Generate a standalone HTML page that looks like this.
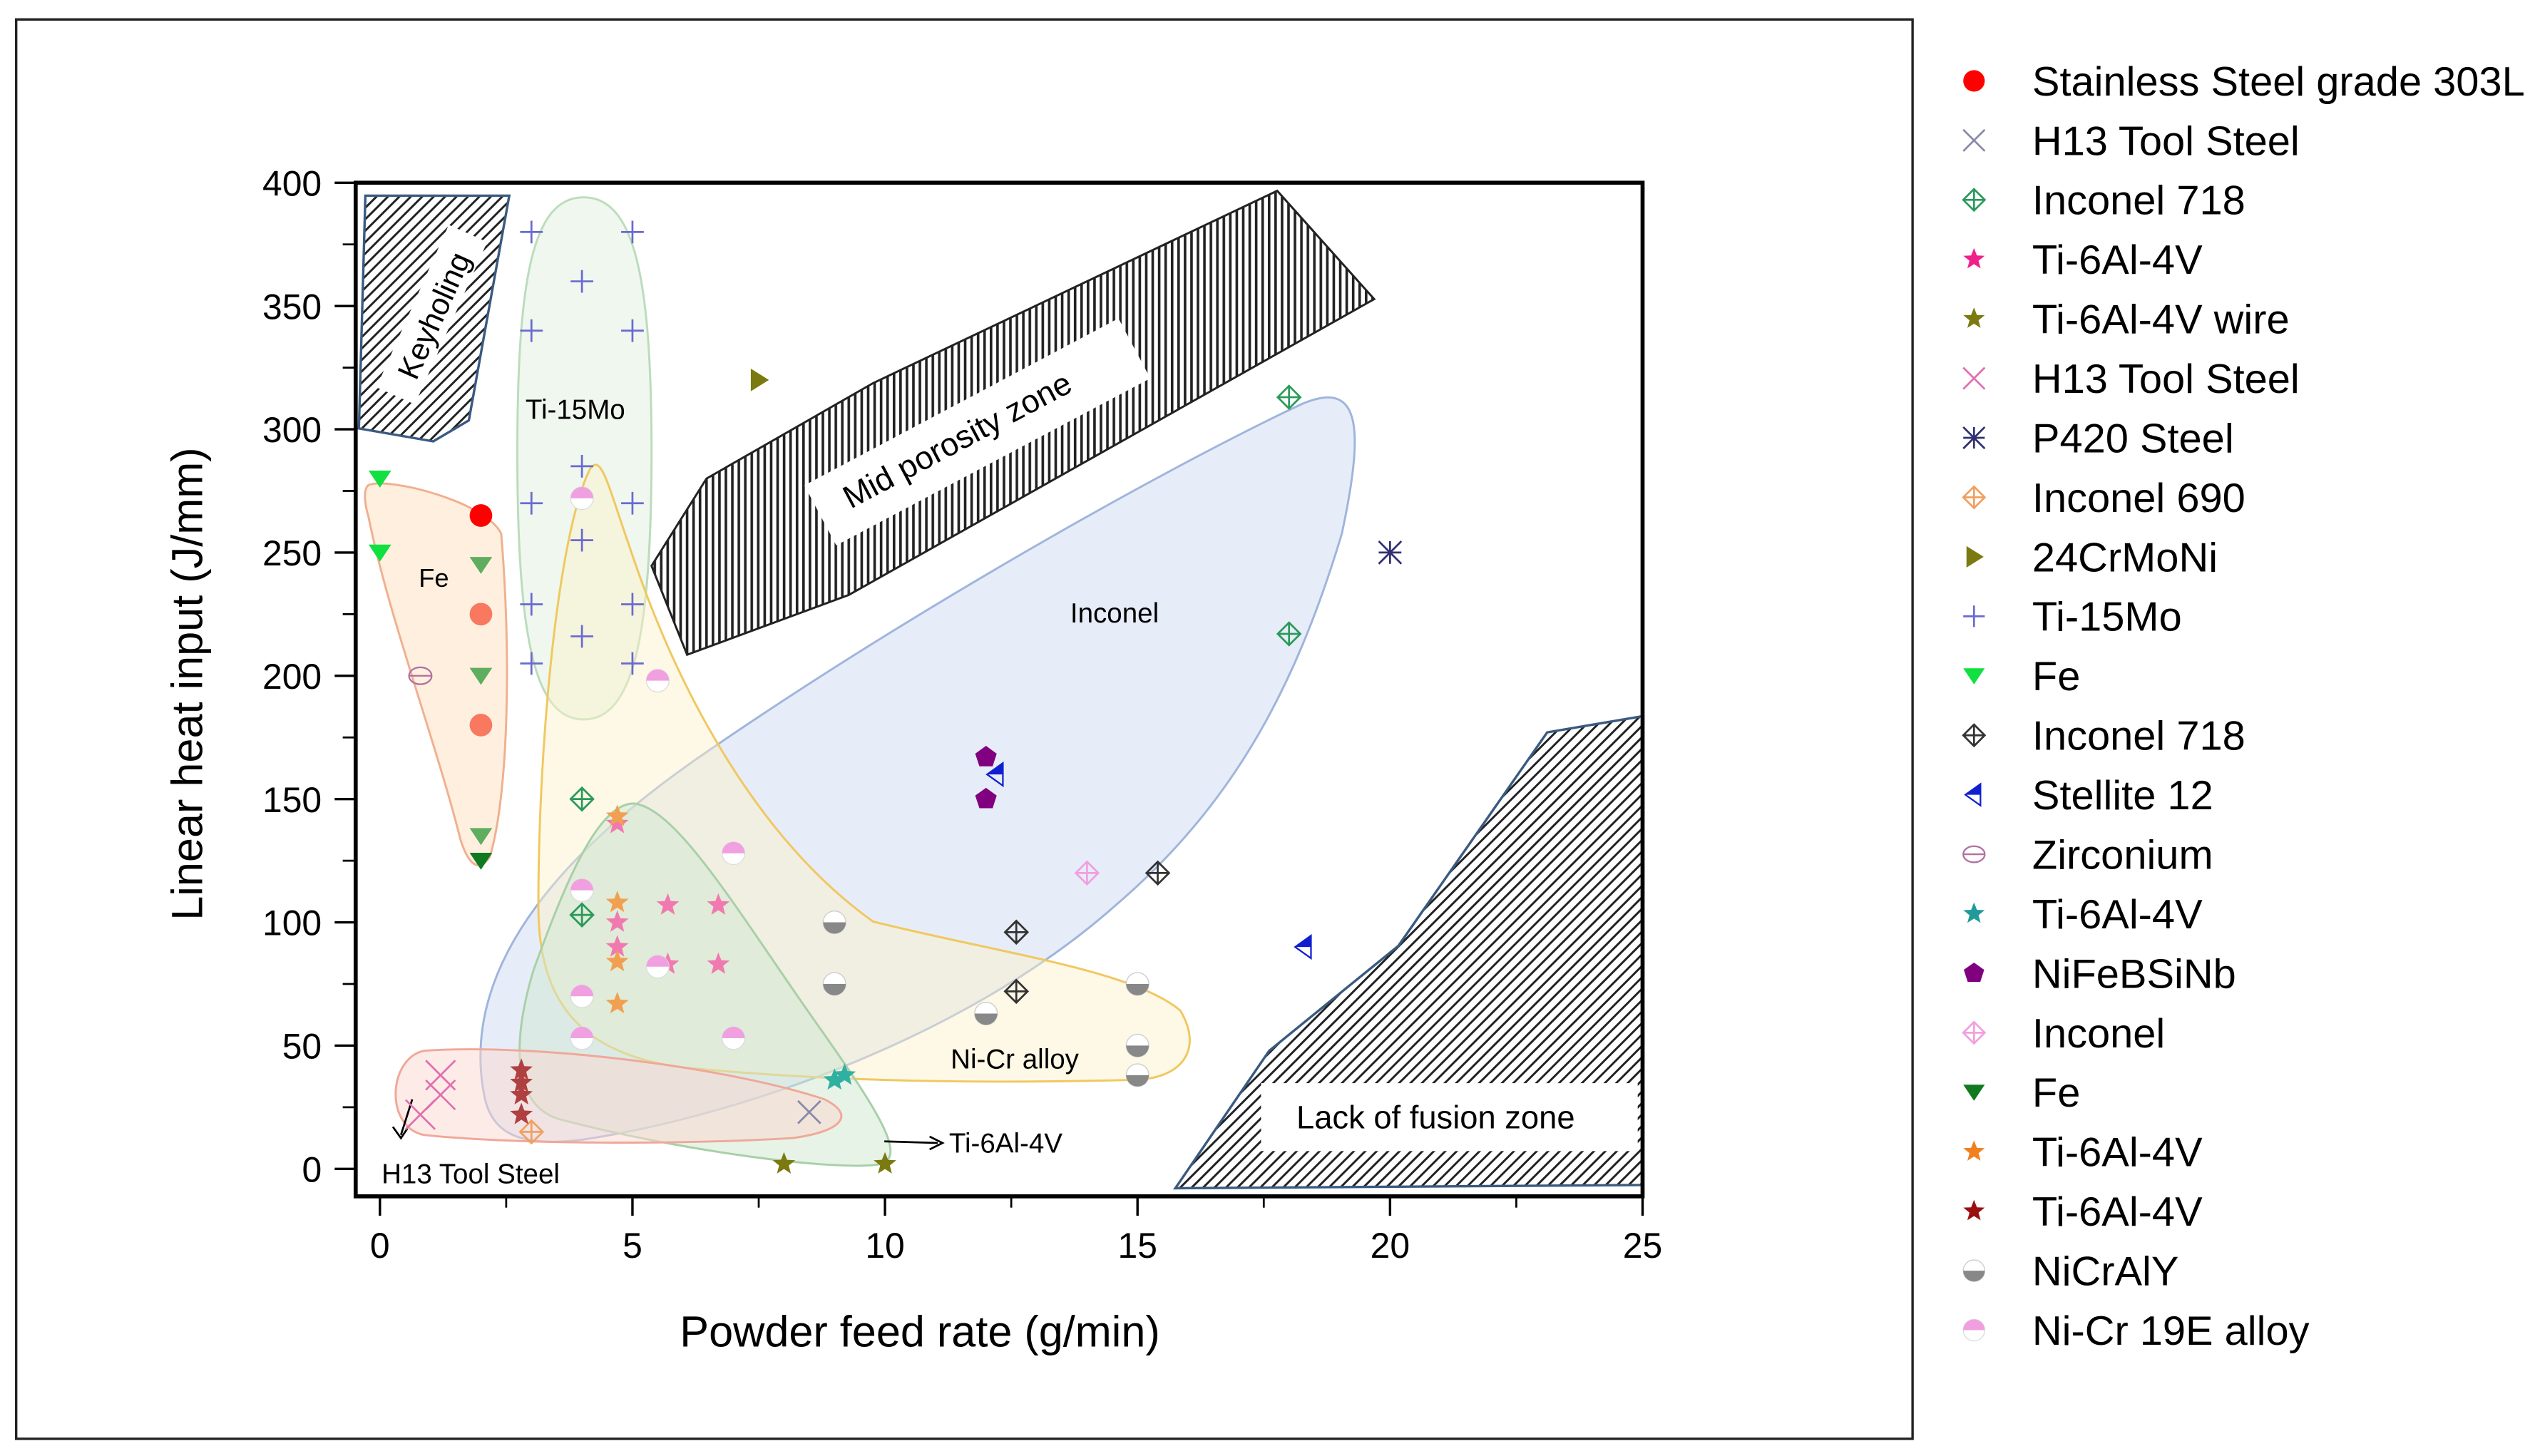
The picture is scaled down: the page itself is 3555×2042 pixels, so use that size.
<!DOCTYPE html>
<html><head><meta charset="utf-8"><style>
html,body{margin:0;padding:0;background:#fff;}
svg{display:block;}
text{font-family:"Liberation Sans",sans-serif;}
</style></head><body>
<svg id="chart" width="3555" height="2042" viewBox="0 0 1568 900.6" xmlns="http://www.w3.org/2000/svg">
<defs>
<pattern id="hatchD" patternUnits="userSpaceOnUse" width="5" height="5" patternTransform="rotate(45)">
<rect width="5" height="5" fill="#fff"/><line x1="0" y1="0" x2="0" y2="5" stroke="#222" stroke-width="2.6"/></pattern>
<pattern id="hatchV" patternUnits="userSpaceOnUse" width="4" height="4">
<rect width="4" height="4" fill="#fff"/><line x1="1" y1="0" x2="1" y2="4" stroke="#222" stroke-width="1.6"/></pattern>
</defs>
<rect x="10" y="12" width="1173" height="878" fill="none" stroke="#222" stroke-width="1.5"/>
<g id="regions"></g>
<g id="axes"></g>
<g id="marks"></g>
<g id="legend"></g>
</svg>
<script>
// Data arrays
const xTicks=[0,5,10,15,20,25];
const yTicks=[0,50,100,150,200,250,300,350,400];
const ss303L=[[2,265]];
const ss303Lb=[[2,225],[2,180]];
const h13Grey=[[8.5,23]];
const inc718Green=[[18,313],[18,217],[4,150],[4,103]];
const tiPink=[[4.7,140],[4.7,100],[4.7,90],[5.7,107],[6.7,107],[5.7,83],[6.7,83]];
const tiWire=[[8,2],[10,2]];
const h13Pink=[[1.2,38],[1.2,30],[0.8,22]];
const p420=[[20,250]];
const inc690=[[3,15]];
const crmoni=[[7.5,320]];
const ti15mo=[[3,380],[5,380],[4,360],[3,340],[5,340],[4,285],[3,270],[5,270],[4,255],[3,229],[5,229],[4,216],[3,205],[5,205]];
const feBright=[[0,280],[0,250]];
const inc718Black=[[15.4,120],[12.6,96],[12.6,72]];
const stellite=[[12.2,160],[18.3,90]];
const zirconium=[[0.8,200]];
const tiTeal=[[9,36],[9.2,38]];
const nifeb=[[12,167],[12,150]];
const inconelPink=[[14,120]];
const feDark=[[2,125]];
const feMuted=[[2,245],[2,200],[2,135]];
const tiOrange=[[4.7,143],[4.7,108],[4.7,84],[4.7,67]];
const tiDarkRed=[[2.8,22],[2.8,30],[2.8,35],[2.8,40]];
const nicraly=[[9,100],[9,75],[12,63],[15,75],[15,50],[15,38]];
const nicr19e=[[4,272],[5.5,198],[7,128],[4,113],[4,70],[4,53],[7,53],[5.5,82]];
const legendLabels=["Stainless Steel grade 303L","H13 Tool Steel","Inconel 718","Ti-6Al-4V","Ti-6Al-4V wire","H13 Tool Steel","P420 Steel","Inconel 690","24CrMoNi","Ti-15Mo","Fe","Inconel 718","Stellite 12","Zirconium","Ti-6Al-4V","NiFeBSiNb","Inconel","Fe","Ti-6Al-4V","Ti-6Al-4V","NiCrAlY","Ni-Cr 19E alloy"];

const NS="http://www.w3.org/2000/svg";
const X0=235,X1=1016,Y0=723,Y1=113;
function sx(v){return X0+(X1-X0)*v/25;}
function sy(v){return Y0-(Y0-Y1)*v/400;}
function mk(tag,attrs,parent){const e=document.createElementNS(NS,tag);for(const k in attrs)e.setAttribute(k,attrs[k]);parent.appendChild(e);return e;}
const R=document.getElementById('regions'),A=document.getElementById('axes'),M=document.getElementById('marks'),L=document.getElementById('legend');

function region(d,fill,stroke,name,op){const p=mk('path',{d:d,fill:fill,stroke:stroke,'stroke-width':1.3,'fill-opacity':op},R);

return p;}
region("M300,680 C285,610 330,540 430,470 C560,380 720,290 805,250 C840,235 845,260 830,330 C800,430 760,500 690,560 C600,640 460,690 360,705 C320,710 305,700 300,680Z","#c9d8f0","#9fb5dc","inconel-region",0.45);
region("M228,300 C240,295 300,310 310,330 C316,400 315,490 303,530 C296,540 290,535 285,520 C270,460 240,380 228,320 C225,310 225,302 228,300Z","#fde0c0","#f0b090","fe-region",0.5);
region("M361,122 C392,122 403,170 403,280 C403,400 390,445 361,445 C332,445 320,400 320,280 C320,170 330,122 361,122Z","#dff0df","#bcdcbc","ti15mo-region",0.5);
region("M365,290 C372,280 376,300 390,340 C420,430 470,520 540,570 C620,590 700,600 730,625 C745,650 730,668 700,668 C620,670 520,670 420,660 C350,650 333,610 333,560 C333,460 345,330 365,290Z","#fdf0c8","#f0c860","nicr-region",0.45);
region("M392,497 C420,500 460,570 510,640 C545,690 560,715 545,720 C520,725 420,712 345,692 C315,682 318,640 330,600 C350,545 370,497 392,497Z","#cfe8cf","#a8d0a8","ti6al4v-region",0.5);
region("M262,650 C330,645 450,660 510,680 C530,690 520,700 490,704 C420,708 320,708 262,702 C238,697 240,655 262,650Z","#fbd8d0","#f0a898","h13-region",0.5);
const kz=mk('path',{d:"M226,121 L315,121 L290,260 L268,273 L222,265Z",fill:"url(#hatchD)",stroke:"#3a5a80","stroke-width":1.5},R);


const kb=mk('rect',{x:-55,y:-14,width:110,height:26,fill:"#fff",transform:"translate(268,195) rotate(-66)"},R);


const kt=mk('text',{x:0,y:7,'font-size':19,'text-anchor':'middle',transform:"translate(268,195) rotate(-66)"},R);


kt.textContent="Keyholing";
const mz=mk('path',{d:"M403,350 L437,296 L540,237 L790,118 L850,185 L525,368 L425,405Z",fill:"url(#hatchV)",stroke:"#222","stroke-width":1.3},R);


const mb=mk('rect',{x:-110,y:-22,width:220,height:42,fill:"#fff",transform:"translate(605,268) rotate(-28)"},R);


const mt=mk('text',{x:0,y:7,'font-size':20,'text-anchor':'middle',transform:"translate(592,272) rotate(-28)"},R);


mt.textContent="Mid porosity zone";
const lz=mk('path',{d:"M727,735 L785,650 L865,585 L957,453 L1016,443 L1016,733Z",fill:"url(#hatchD)",stroke:"#3a5a80","stroke-width":1.5},R);


const lb=mk('rect',{x:780,y:670,width:233,height:42,fill:"#fff"},R);


const lt=mk('text',{x:888,y:698,'font-size':20,'text-anchor':'middle'},R);


lt.textContent="Lack of fusion zone";
function lbl(x,y,s,t,name){const e=mk('text',{x:x,y:y,'font-size':s},R);e.textContent=t;

}
lbl(325,259,17,"Ti-15Mo","ti15mo-label");
lbl(259,363,16,"Fe","fe-label");
lbl(662,385,17,"Inconel","inconel-label");
lbl(588,661,17,"Ni-Cr alloy","nicr-label");
lbl(236,732,17,"H13 Tool Steel","h13-label");
lbl(587,713,17,"Ti-6Al-4V","ti6al4v-label");
mk('path',{d:"M255,680 L248,702 M243,697 L248,704 L252,698",stroke:"#000",fill:"none","stroke-width":1.2},R);
mk('path',{d:"M547,706 L580,707 M575,703 L583,707 L575,711",stroke:"#000",fill:"none","stroke-width":1.2},R);

const fr=mk('rect',{x:220,y:113,width:796,height:627,fill:"none",stroke:"#000","stroke-width":2.5},A);


xTicks.forEach(v=>{const x=sx(v);
 mk('line',{x1:x,y1:740,x2:x,y2:752,stroke:"#000","stroke-width":1.5},A);
 const t=mk('text',{x:x,y:778,'font-size':22,'text-anchor':'middle'},A);t.textContent=v;
 
 });
for(let i=0;i<xTicks.length-1;i++){const x=sx((xTicks[i]+xTicks[i+1])/2);mk('line',{x1:x,y1:740,x2:x,y2:747,stroke:"#000","stroke-width":1.2},A);}
yTicks.forEach(v=>{const y=sy(v);
 mk('line',{x1:207,y1:y,x2:220,y2:y,stroke:"#000","stroke-width":1.5},A);
 const t=mk('text',{x:199,y:y+8,'font-size':22,'text-anchor':'end'},A);t.textContent=v;
 
 });
for(let i=0;i<yTicks.length-1;i++){const y=sy((yTicks[i]+yTicks[i+1])/2);mk('line',{x1:212,y1:y,x2:220,y2:y,stroke:"#000","stroke-width":1.2},A);}
const xt=mk('text',{x:569,y:833,'font-size':27,'text-anchor':'middle'},A);xt.textContent="Powder feed rate (g/min)";


const yt=mk('text',{x:0,y:0,'font-size':27,'text-anchor':'middle',transform:"translate(125,423) rotate(-90)"},A);yt.textContent="Linear heat input (J/mm)";



function shape(type,cx,cy,col,par,s){s=s||1;const g=mk('g',{},par);
 const r=7*s;
 if(type==='circle')mk('circle',{cx:cx,cy:cy,r:r,fill:col},g);
 else if(type==='x'){mk('path',{d:`M${cx-r},${cy-r}L${cx+r},${cy+r}M${cx-r},${cy+r}L${cx+r},${cy-r}`,stroke:col,'stroke-width':1.2,fill:'none'},g);}
 else if(type==='plus'){mk('path',{d:`M${cx-r},${cy}L${cx+r},${cy}M${cx},${cy-r}L${cx},${cy+r}`,stroke:col,'stroke-width':1.2},g);}
 else if(type==='diamond'){mk('path',{d:`M${cx},${cy-r}L${cx+r},${cy}L${cx},${cy+r}L${cx-r},${cy}ZM${cx-r},${cy}L${cx+r},${cy}M${cx},${cy-r}L${cx},${cy+r}`,stroke:col,'stroke-width':1.2,fill:'none'},g);}
 else if(type==='star'){let d='';for(let i=0;i<10;i++){const a=-Math.PI/2+i*Math.PI/5,rr=i%2?r*0.45:r*1.05;d+=(i?'L':'M')+(cx+rr*Math.cos(a)).toFixed(1)+','+(cy+rr*Math.sin(a)).toFixed(1);}mk('path',{d:d+'Z',fill:col},g);}
 else if(type==='down')mk('path',{d:`M${cx-r},${cy-r*0.7}L${cx+r},${cy-r*0.7}L${cx},${cy+r*0.8}Z`,fill:col},g);
 else if(type==='right')mk('path',{d:`M${cx-r*0.7},${cy-r}L${cx+r*0.9},${cy}L${cx-r*0.7},${cy+r}Z`,fill:col},g);
 else if(type==='left'){mk('path',{d:`M${cx+r*0.6},${cy-r}L${cx-r*0.8},${cy}L${cx+r*0.6},${cy}Z`,fill:col},g);mk('path',{d:`M${cx+r*0.6},${cy-r}L${cx-r*0.8},${cy}L${cx+r*0.6},${cy+r}Z`,fill:'none',stroke:col,'stroke-width':1},g);}
 else if(type==='pent'){let d='';for(let i=0;i<5;i++){const a=-Math.PI/2+i*2*Math.PI/5;d+=(i?'L':'M')+(cx+r*Math.cos(a)).toFixed(1)+','+(cy+r*Math.sin(a)).toFixed(1);}mk('path',{d:d+'Z',fill:col},g);}
 else if(type==='hex'){mk('ellipse',{cx:cx,cy:cy,rx:r,ry:r*0.75,fill:'none',stroke:col,'stroke-width':1},g);mk('line',{x1:cx-r,y1:cy,x2:cx+r,y2:cy,stroke:col,'stroke-width':1},g);}
 else if(type==='half'){mk('circle',{cx:cx,cy:cy,r:r,fill:'#fff',stroke:'#ccc','stroke-width':0.6},g);mk('path',{d:`M${cx-r},${cy}A${r},${r} 0 0 0 ${cx+r},${cy}Z`,fill:col},g);}
 else if(type==='halfTop'){mk('circle',{cx:cx,cy:cy,r:r,fill:'#fff',stroke:'#ddd','stroke-width':0.6},g);mk('path',{d:`M${cx-r},${cy}A${r},${r} 0 0 1 ${cx+r},${cy}Z`,fill:col},g);}
 else if(type==='asterisk'){mk('path',{d:`M${cx-r},${cy-r}L${cx+r},${cy+r}M${cx-r},${cy+r}L${cx+r},${cy-r}M${cx-r},${cy}L${cx+r},${cy}M${cx},${cy-r}L${cx},${cy+r}`,stroke:col,'stroke-width':1.2},g);}
 return g;}
function series(arr,type,col,name,s){arr.forEach(p=>{const g=shape(type,sx(p[0]),sy(p[1]),col,M,s);
 
 });}
series(ss303Lb,'circle','#f87860','ss303l-point');
series(feMuted,'down','#5fae5f','fe-dark-point');
series(ss303L,'circle','#f00','ss303l-point');
series(h13Grey,'x','#8888aa','h13-grey-point');
series(inc718Green,'diamond','#2a9a5a','inconel718-green-point');
series(tiPink,'star','#f07ab0','ti6al4v-pink-point');
series(tiWire,'star','#7a7a10','ti6al4v-wire-point');
series(h13Pink,'x','#e070b0','h13-pink-point',1.3);
series(p420,'asterisk','#303070','p420-point');
series(inc690,'diamond','#f0a060','inconel690-point');
series(crmoni,'right','#7a7a10','24crmoni-point');
series(ti15mo,'plus','#6a6ad0','ti15mo-point');
series(feBright,'down','#10e040','fe-bright-point');
series(inc718Black,'diamond','#333','inconel718-black-point');
series(stellite,'left','#1020d0','stellite12-point');
series(zirconium,'hex','#b070a0','zirconium-point');
series(tiTeal,'star','#30b0a0','ti6al4v-teal-point');
series(nifeb,'pent','#800080','nifebsinb-point');
series(inconelPink,'diamond','#f0a0e0','inconel-pink-point');
series(feDark,'down','#107a20','fe-dark-point');
series(tiOrange,'star','#f0a050','ti6al4v-orange-point');
series(tiDarkRed,'star','#b04040','ti6al4v-darkred-point');
series(nicraly,'half','#888','nicraly-point');
series(nicr19e,'halfTop','#f0a0e0','nicr19e-point');

const legTypes=[['circle','#f00'],['x','#8888aa'],['diamond','#2a9a5a'],['star','#f0208a'],['star','#7a7a10'],['x','#e070b0'],['asterisk','#303070'],['diamond','#f0a060'],['right','#7a7a10'],['plus','#6a6ad0'],['down','#10e040'],['diamond','#333'],['left','#1020d0'],['hex','#b070a0'],['star','#209a9a'],['pent','#800080'],['diamond','#f0a0e0'],['down','#107a20'],['star','#f08020'],['star','#9a1010'],['half','#888'],['halfTop','#f0a0e0']];
legendLabels.forEach((t,i)=>{const y=50+i*36.8;
 const g=mk('g',{},L);
 
 
 shape(legTypes[i][0],1221,y,legTypes[i][1],g,0.95);
 const tx=mk('text',{x:1257,y:y+9,'font-size':25.5},g);tx.textContent=t;});
</script>
</body></html>
